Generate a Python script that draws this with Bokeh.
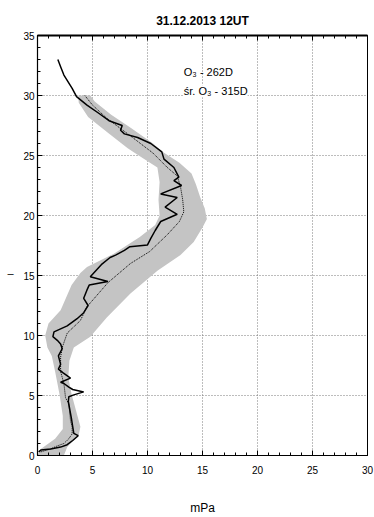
from bokeh.plotting import figure
from bokeh.models import Range1d, SingleIntervalTicker, LinearAxis, Label, FixedTicker
from bokeh.embed import file_html
from bokeh.resources import INLINE

FONT = "Liberation Sans"

title_text = "31.12.2013 12UT"
x_label = "mPa"
y_label = "–"
legend_current = "O₃ - 262D"
legend_mean = "śr. O₃ - 315D"

# current sounding (partial pressure mPa vs altitude km)
sonde_mpa = [0.1, 0.3, 1.2, 2.1, 2.7, 3.2, 3.7, 3.3, 3.2, 3.1, 3.0, 2.9, 2.8, 2.85, 3.3, 4.2,
             3.2, 2.85, 2.4, 2.1, 3.0, 2.3, 1.9, 2.1, 1.9, 2.25, 2.1, 1.8, 1.4, 1.5, 2.7,
             3.6, 4.2, 4.6, 4.2, 4.5, 4.7, 6.4, 4.8, 5.8, 6.6, 7.1, 7.9, 8.4, 10.0, 10.3,
             10.7, 11.2, 12.7, 11.6, 12.7, 11.2, 13.1, 12.4, 12.85, 12.4, 11.5, 11.3,
             10.3, 9.1, 7.9, 7.55, 7.7, 6.5, 5.6, 4.5, 3.55, 3.15, 2.4, 2.1, 1.85]
sonde_km = [0.3, 0.45, 0.55, 0.7, 0.9, 1.25, 1.65, 1.85, 2.4, 3.0, 3.5, 4.0, 4.5, 4.9, 5.05, 5.3,
            5.5, 5.7, 6.0, 6.1, 6.45, 6.9, 7.2, 7.6, 8.3, 8.9, 9.3, 9.6, 9.9, 10.3, 10.8,
            11.4, 11.9, 12.5, 13.1, 13.8, 14.2, 14.5, 14.9, 15.9, 16.5, 16.7, 17.1, 17.4,
            17.55, 18.1, 18.75, 19.5, 20.1, 20.7, 21.5, 21.8, 22.5, 22.9, 23.2, 24.0,
            24.7, 25.3, 26.0, 26.5, 26.8, 27.1, 27.5, 27.9, 28.5, 29.2, 29.9, 30.6,
            31.7, 32.4, 33.0]

# long-term mean profile
mean_mpa = [0.3, 1.2, 1.8, 2.4, 2.85, 3.15, 3.15, 3.0, 2.85, 2.55, 2.4, 2.1, 2.1, 2.25, 2.7,
            3.9, 4.5, 6.4, 8.45, 10.2, 11.8, 12.9, 13.3, 13.2, 13.0, 12.7, 11.8, 10.5,
            8.5, 6.3, 5.0, 4.3]
mean_km = [0.3, 0.55, 0.8, 1.0, 1.4, 1.8, 2.4, 2.9, 4.3, 4.8, 6.0, 7.0, 8.2, 9.0, 10.2,
           11.25, 12.4, 14.4, 16.0, 17.0, 18.4, 19.5, 20.3, 21.3, 22.4, 23.3, 24.0, 25.2,
           26.6, 28.1, 29.2, 30.0]

# variability band: right edge (bottom -> top), left edge (top -> bottom)
band_right_mpa = [2.4, 2.7, 3.75, 3.9, 3.5, 3.1, 2.8, 2.9, 3.3, 4.8, 6.3, 8.45, 10.9, 13.0,
                  14.2, 15.0, 15.4, 15.2, 14.8, 14.4, 14.0, 12.9, 11.4, 10.5, 8.5, 6.7, 5.2, 4.8]
band_right_km = [0.0, 0.7, 1.7, 2.4, 3.75, 5.1, 6.5, 7.9, 9.0, 9.9, 11.5, 13.5, 15.4, 16.7,
                 17.8, 19.0, 19.7, 20.6, 21.5, 22.6, 23.5, 24.4, 25.3, 26.0, 27.3, 28.4, 29.5, 30.0]
band_left_mpa = [3.7, 3.75, 4.6, 6.4, 8.2, 9.2, 10.9, 11.1, 11.0, 11.1, 10.7, 9.3, 6.9, 4.5,
                 3.9, 3.1, 2.1, 1.0, 0.7, 0.9, 1.3, 1.6, 2.0, 2.3, 2.3, 1.6, 0.3, 0.0]
band_left_km = [30.0, 29.4, 28.2, 26.9, 25.6, 25.0, 24.0, 22.8, 21.3, 20.0, 19.2, 18.2, 16.8,
                15.7, 15.2, 14.2, 12.1, 11.0, 10.0, 9.0, 8.3, 7.0, 5.1, 3.3, 2.2, 1.4, 0.55, 0.0]

x_ticks = [0, 5, 10, 15, 20, 25, 30]
y_ticks = [0, 5, 10, 15, 20, 25, 30, 35]
y_label_at = 15.2

p = figure(width=374, height=517, output_backend="svg", toolbar_location=None,
           x_range=Range1d(x_ticks[0], x_ticks[-1]), y_range=Range1d(y_ticks[0], y_ticks[-1]),
           min_border_left=37, min_border_right=7, min_border_top=35, min_border_bottom=62)
p.title.visible = False
p.background_fill_color = "white"
p.border_fill_color = "white"
p.outline_line_color = "black"
p.outline_line_width = 1

tk = SingleIntervalTicker(interval=5, num_minor_ticks=5)
for ax in (p.xaxis[0], p.yaxis[0]):
    ax.ticker = tk
    ax.axis_line_color = "black"
    ax.axis_line_width = 1.2
    ax.major_tick_in = 5
    ax.major_tick_out = 0
    ax.minor_tick_in = 3
    ax.minor_tick_out = 0
    ax.major_tick_line_color = "black"
    ax.minor_tick_line_color = "black"
    ax.major_label_text_font = FONT
    ax.major_label_text_font_size = "10px"
    ax.major_label_text_color = "black"
    ax.axis_label_text_font = FONT
    ax.axis_label_text_font_style = "normal"
    ax.axis_label_text_color = "black"
p.xaxis[0].major_label_standoff = 10
p.yaxis[0].major_label_standoff = 3

p.xaxis[0].axis_label = x_label
p.xaxis[0].axis_label_text_font_size = "12px"
p.xaxis[0].axis_label_standoff = 24

# horizontal y-axis caption drawn as the only label of a second left axis
ycap = LinearAxis(ticker=FixedTicker(ticks=[y_label_at]), axis_line_color=None,
                  major_tick_line_color=None, minor_tick_line_color=None,
                  major_label_overrides={y_label_at: y_label}, major_label_standoff=1,
                  major_label_text_font=FONT, major_label_text_font_size="11px",
                  major_label_text_color="black")
p.add_layout(ycap, "left")

top = LinearAxis(ticker=tk, major_tick_in=5, major_tick_out=0,
                 minor_tick_in=3, minor_tick_out=0, axis_line_width=2, axis_line_color="black",
                 major_label_standoff=0, major_label_text_font_size="1px",
                 major_label_overrides={v: "" for v in x_ticks},
                 axis_label=title_text, axis_label_text_font=FONT,
                 axis_label_text_font_style="bold", axis_label_text_font_size="12px",
                 axis_label_text_color="black", axis_label_standoff=8)
p.add_layout(top, "above")

for g in (p.xgrid[0], p.ygrid[0]):
    g.ticker = tk
    g.grid_line_color = "#7a7a7a"
    g.grid_line_dash = "1 2"
    g.grid_line_width = 1

band_x = band_right_mpa + band_left_mpa
band_y = band_right_km + band_left_km
p.patch(band_x, band_y, fill_color="#c4c4c4", line_color=None)
p.line(mean_mpa, mean_km, line_color="black", line_width=1, line_dash="1 1")
p.line(sonde_mpa, sonde_km, line_color="black", line_width=1.5)

p.add_layout(Label(x=13.3, y=32.0, text=legend_current, text_font=FONT, text_font_size="11px",
                   text_baseline="middle", text_align="left", text_color="black"))
p.add_layout(Label(x=13.3, y=30.35, text=legend_mean, text_font=FONT, text_font_size="11px",
                   text_baseline="middle", text_align="left", text_color="black",
                   background_fill_color="white"))

open("out.html", "w").write(file_html(p, INLINE))
